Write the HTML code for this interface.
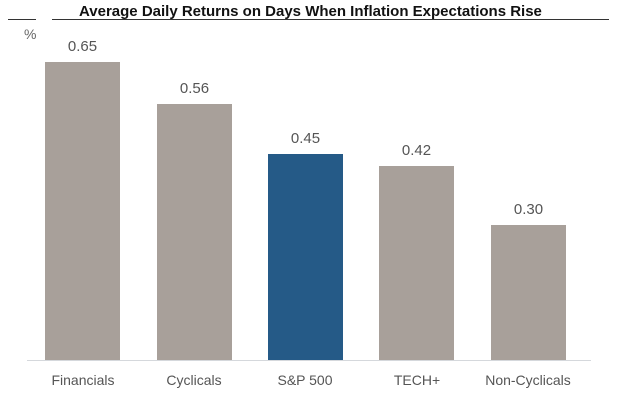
<!DOCTYPE html>
<html><head><style>
body{margin:0;background:#fff;width:640px;height:400px;overflow:hidden;position:relative;font-family:"Liberation Sans",sans-serif}
.a{position:absolute}
.bar{position:absolute;background:#a8a09a;width:75px}
.v{position:absolute;font-size:15px;color:#555;width:75px;text-align:center}
.l{position:absolute;font-size:14px;color:#555;width:120px;text-align:center;top:372px}
</style></head><body>
<div class="a" style="left:79px;top:3px;white-space:nowrap;font-weight:bold;font-size:15px;color:#111">Average Daily Returns on Days When Inflation Expectations Rise</div>
<div class="a" style="left:8px;top:19px;width:28px;height:1px;background:#333"></div>
<div class="a" style="left:52px;top:19px;width:557px;height:1px;background:#333"></div>
<div class="a" style="left:24px;top:26px;font-size:14px;color:#666">%</div>
<div class="bar" style="left:45px;top:62px;height:298px"></div>
<div class="bar" style="left:157px;top:104px;height:256px"></div>
<div class="bar" style="left:268px;top:154px;height:206px;background:#255a87"></div>
<div class="bar" style="left:379px;top:166px;height:194px"></div>
<div class="bar" style="left:491px;top:225px;height:135px"></div>
<div class="a" style="left:27px;top:360px;width:564px;height:1px;background:#d5d8dc"></div>
<div class="v" style="left:45px;top:38px">0.65</div>
<div class="v" style="left:157px;top:80px">0.56</div>
<div class="v" style="left:268px;top:130px">0.45</div>
<div class="v" style="left:379px;top:142px">0.42</div>
<div class="v" style="left:491px;top:201px">0.30</div>
<div class="l" style="left:23px">Financials</div>
<div class="l" style="left:134px">Cyclicals</div>
<div class="l" style="left:245px">S&amp;P 500</div>
<div class="l" style="left:357px">TECH+</div>
<div class="l" style="left:468px">Non-Cyclicals</div>
</body></html>
